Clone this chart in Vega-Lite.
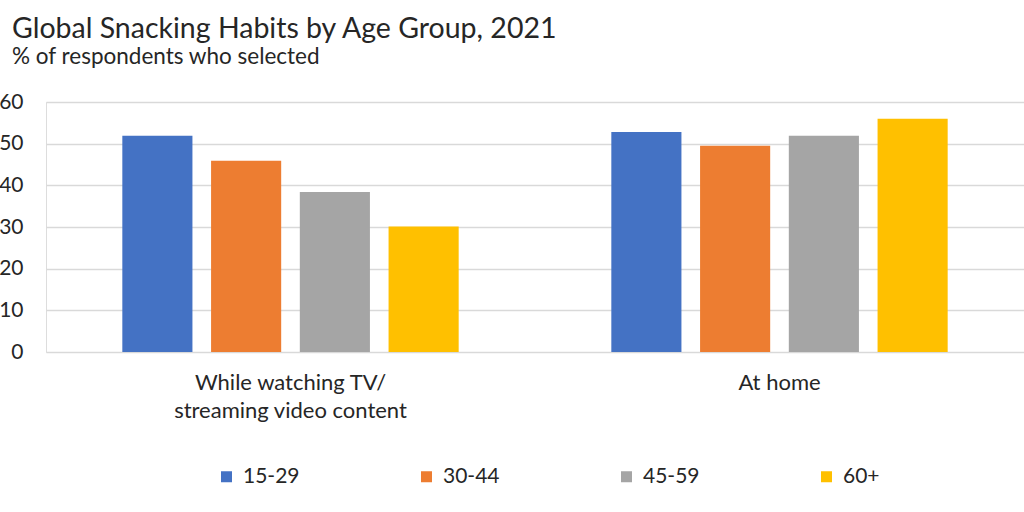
{
  "$schema": "https://vega.github.io/schema/vega-lite/v6.json",
  "width": 978,
  "height": 250,
  "autosize": {"type": "none"},
  "padding": {"left": 46, "top": 102, "right": 0, "bottom": 160},
  "background": "white",
  "title": {
    "text": "Global Snacking Habits by Age Group, 2021",
    "subtitle": "% of respondents who selected",
    "anchor": "start",
    "frame": "group",
    "dx": -34,
    "offset": 23,
    "font": "Lato",
    "fontSize": 28.5,
    "fontWeight": "normal",
    "color": "#262626",
    "subtitleFont": "Lato",
    "subtitleFontSize": 22.5,
    "subtitleColor": "#262626",
    "subtitlePadding": 2
  },
  "data": {
    "values": [
      {"context": "While watching TV/ streaming video content", "age": "15-29", "pct": 51.9},
      {"context": "While watching TV/ streaming video content", "age": "30-44", "pct": 45.9},
      {"context": "While watching TV/ streaming video content", "age": "45-59", "pct": 38.4},
      {"context": "While watching TV/ streaming video content", "age": "60+", "pct": 30.1},
      {"context": "At home", "age": "15-29", "pct": 52.8},
      {"context": "At home", "age": "30-44", "pct": 49.5},
      {"context": "At home", "age": "45-59", "pct": 51.9},
      {"context": "At home", "age": "60+", "pct": 56.0}
    ]
  },
  "mark": {"type": "bar"},
  "encoding": {
    "x": {
      "field": "context",
      "type": "nominal",
      "sort": ["While watching TV/ streaming video content", "At home"],
      "scale": {"paddingInner": 0, "paddingOuter": 0},
      "axis": {
        "title": null,
        "domain": false,
        "ticks": false,
        "labelAngle": 0,
        "labelLimit": 400,
        "labelFont": "Lato",
        "labelFontSize": 22,
        "labelColor": "#262626",
        "labelPadding": 20,
        "labelLineHeight": 28,
        "labelExpr": "datum.label == 'At home' ? datum.label : ['While watching TV/', 'streaming video content']"
      }
    },
    "xOffset": {
      "field": "age",
      "type": "nominal",
      "scale": {"paddingInner": 0.21, "paddingOuter": 0.86}
    },
    "y": {
      "field": "pct",
      "type": "quantitative",
      "scale": {"domain": [0, 60]},
      "axis": {
        "title": null,
        "domain": false,
        "ticks": false,
        "values": [0, 10, 20, 30, 40, 50, 60],
        "labelFont": "Lato",
        "labelFontSize": 21,
        "labelColor": "#262626",
        "labelPadding": 23,
        "gridColor": "#d9d9d9",
        "gridWidth": 1.5
      }
    },
    "color": {
      "field": "age",
      "type": "nominal",
      "scale": {
        "domain": ["15-29", "30-44", "45-59", "60+"],
        "range": ["#4472C4", "#ED7D31", "#A5A5A5", "#FFC000"]
      },
      "legend": {
        "title": null,
        "orient": "none",
        "direction": "horizontal",
        "columns": 4,
        "gridAlign": "all",
        "legendX": 170,
        "legendY": 364,
        "symbolType": "square",
        "symbolSize": 121,
        "symbolStrokeWidth": 0,
        "symbolOpacity": 1,
        "labelFont": "Lato",
        "labelFontSize": 21,
        "labelColor": "#262626",
        "labelOffset": 6,
        "columnPadding": 116
      }
    }
  }
}
